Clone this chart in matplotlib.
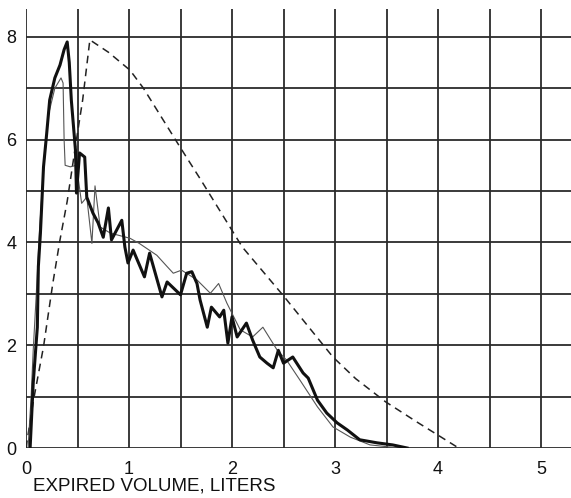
import numpy as np
import matplotlib.pyplot as plt
from matplotlib.ticker import MultipleLocator, FixedLocator

plt.rcParams['font.family'] = ['Liberation Sans', 'DejaVu Sans']

# predicted (dashed) curve
pred_vol = [0.0, 0.07, 0.17, 0.26, 0.33, 0.40, 0.49, 0.55, 0.62, 0.80, 1.01, 1.14,
            1.50, 1.69, 2.10, 2.50, 2.98, 3.20, 3.49, 3.80, 4.00, 4.20]
pred_flow = [0.0, 0.9, 1.97, 3.2, 4.05, 4.8, 6.0, 6.77, 7.94, 7.7, 7.35, 7.0,
             5.84, 5.24, 3.91, 2.96, 1.77, 1.35, 0.9, 0.5, 0.25, 0.0]

# thick solid curve
main_vol = [0.04, 0.07, 0.11, 0.12, 0.14, 0.17, 0.20, 0.23, 0.28, 0.33, 0.37, 0.40,
            0.42, 0.44, 0.48, 0.49, 0.52, 0.57, 0.59, 0.65, 0.70, 0.75, 0.80, 0.83,
            0.93, 0.96, 0.99, 1.04, 1.15, 1.20, 1.32, 1.37, 1.50, 1.56, 1.61,
            1.66, 1.69, 1.76, 1.80, 1.88, 1.92, 1.96, 2.00, 2.05, 2.14, 2.20,
            2.27, 2.34, 2.40, 2.45, 2.50, 2.59, 2.69, 2.74, 2.83, 2.92, 3.02,
            3.12, 3.24, 3.41, 3.56, 3.70]
main_flow = [0.0, 1.26, 2.35, 3.53, 4.18, 5.47, 6.1, 6.77, 7.2, 7.45, 7.75, 7.9,
             7.5, 6.77, 5.8, 4.96, 5.74, 5.66, 4.88, 4.57, 4.38, 4.1, 4.67, 4.05,
             4.43, 3.91, 3.6, 3.85, 3.33, 3.79, 2.94, 3.23, 2.98, 3.4, 3.43,
             3.2, 2.88, 2.35, 2.74, 2.55, 2.68, 2.04, 2.55, 2.16, 2.43, 2.1,
             1.77, 1.65, 1.56, 1.9, 1.65, 1.77, 1.46, 1.36, 0.93, 0.68, 0.49,
             0.35, 0.16, 0.1, 0.06, 0.0]

# thin solid curve
alt_vol = [0.02, 0.05, 0.07, 0.10, 0.13, 0.17, 0.22, 0.28, 0.34, 0.36, 0.37,
           0.38, 0.43, 0.49, 0.54, 0.59, 0.64, 0.67, 0.72, 0.82, 1.01, 1.10,
           1.27, 1.37, 1.43, 1.51, 1.66, 1.79, 1.87, 1.95, 2.08, 2.20, 2.30,
           2.44, 2.53, 2.66, 2.83, 2.98, 3.15, 3.34, 3.53, 3.60]
alt_flow = [0.0, 1.0, 1.9, 3.0, 4.2, 5.4, 6.5, 7.0, 7.2, 7.1, 6.0,
            5.5, 5.47, 5.5, 4.76, 4.88, 3.98, 5.1, 4.3, 4.18, 4.08, 3.98,
            3.75, 3.53, 3.4, 3.46, 3.27, 3.01, 3.2, 2.82, 2.3, 2.16, 2.35,
            1.9, 1.71, 1.32, 0.8, 0.41, 0.21, 0.06, 0.02, 0.0]

x_labels = ['0', '1', '2', '3', '4', '5']
y_labels = ['0', '2', '4', '6', '8']

fig = plt.figure(figsize=(5.71, 4.98), dpi=100)
ax = fig.add_axes([26 / 571, 1 - 448 / 498, 545 / 571, 439 / 498])
ax.set_xlim(0, 545 / 103)
ax.set_ylim(0, 439 / 51.4)

ax.xaxis.set_major_locator(FixedLocator(range(len(x_labels))))
ax.set_xticklabels(x_labels)
ax.xaxis.set_minor_locator(MultipleLocator(0.5))
ax.yaxis.set_major_locator(FixedLocator([int(v) for v in y_labels]))
ax.set_yticklabels(y_labels)
ax.yaxis.set_minor_locator(MultipleLocator(1))
ax.tick_params(which='both', length=0, labelsize=13, colors='#111111')
ax.tick_params(axis='x', pad=9)
ax.tick_params(axis='y', pad=7)
ax.grid(which='both', color='#2b2b2b', linewidth=1.3)
ax.set_axisbelow(True)
for s in ax.spines.values():
    s.set_visible(False)

ax.plot(pred_vol, pred_flow, color='#222222', lw=1.1, dashes=(5, 3.5))
ax.plot(alt_vol, alt_flow, color='#555555', lw=0.8)
ax.plot(main_vol, main_flow, color='#111111', lw=2.2)

ax.set_xlabel('EXPIRED VOLUME, LITERS', fontsize=13.5, color='#111111')
ax.xaxis.set_label_coords(0.012, -0.068)
ax.xaxis.label.set_horizontalalignment('left')

fig.savefig('out.png', dpi=100)
